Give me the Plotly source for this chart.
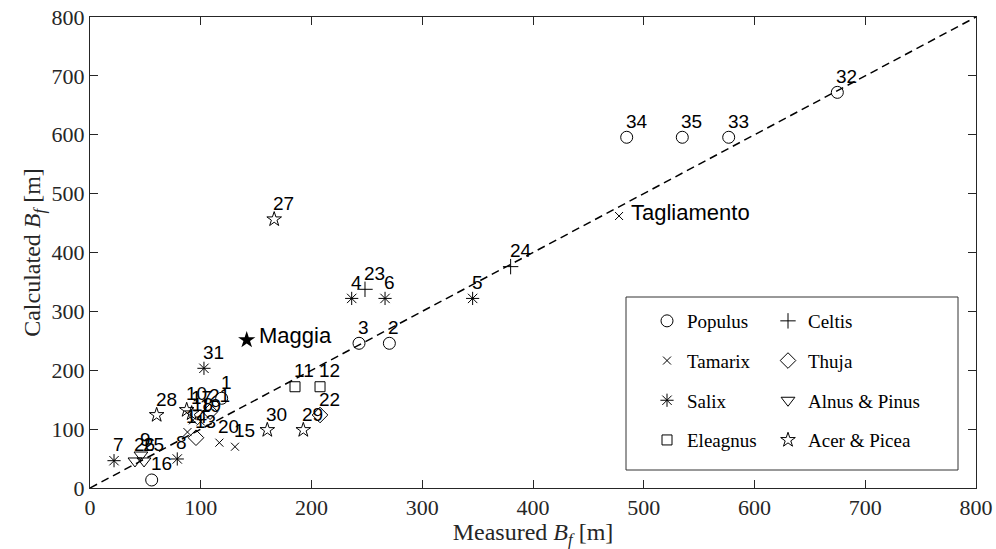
import plotly.graph_objects as go

# ---------------- data ----------------
populus_id = ["1", "2", "3", "16", "32", "33", "34", "35"]
populus_x = [118.9, 270.3, 242.9, 55.7, 674.8, 576.7, 484.6, 534.8]
populus_y = [152.4, 245.8, 245.8, 13.6, 672.0, 595.7, 595.7, 595.7]

tamarix_id = ["14", "15", "18", "19", "20"]
tamarix_x = [88.0, 130.9, 93.0, 100.0, 116.8]
tamarix_y = [95.0, 70.1, 115.0, 113.0, 77.0]

salix_id = ["4", "5", "6", "7", "8", "31"]
salix_x = [236.3, 345.5, 266.4, 21.7, 78.8, 102.9]
salix_y = [322.0, 322.0, 322.0, 46.4, 49.3, 203.3]

eleagnus_id = ["11", "12"]
eleagnus_x = [185.1, 207.7]
eleagnus_y = [172.0, 172.0]

celtis_id = ["23", "24"]
celtis_x = [248.3, 379.8]
celtis_y = [337.5, 376.0]

thuja_id = ["13", "21", "22"]
thuja_x = [95.7, 108.4, 207.7]
thuja_y = [85.4, 129.6, 124.0]

alnus_id = ["9", "25", "26"]
alnus_x = [46.0, 48.8, 40.6]
alnus_y = [56.0, 45.9, 45.9]

acer_id = ["10", "17", "27", "28", "29", "30"]
acer_x = [87.3, 91.8, 166.3, 60.2, 192.6, 160.1]
acer_y = [132.5, 126.9, 456.4, 124.0, 98.5, 98.5]

named_sites = ["Maggia", "Tagliamento"]
maggia_x, maggia_y = [141.5], [251.4]
tagliamento_x, tagliamento_y = [477.7], [462.0]

axis_ticks = [0, 100, 200, 300, 400, 500, 600, 700, 800]

# ---------------- figure ----------------
PL, PR, PT, PB = 90, 976, 17, 488  # plot area in pixels
W, H = 996, 549

def px_x(p):
    return (p - PL) / (PR - PL)

def px_y(p):
    return (PB - p) / (PB - PT)

fig = go.Figure()

# 1:1 line
fig.add_trace(go.Scatter(x=[axis_ticks[0], axis_ticks[-1]], y=[axis_ticks[0], axis_ticks[-1]],
                         mode="lines", line=dict(color="black", width=1.5, dash="8px,5px"),
                         showlegend=False, hoverinfo="skip"))

groups = [
    ("Populus", populus_id, populus_x, populus_y, "circle-open", 12, "legend"),
    ("Celtis", celtis_id, celtis_x, celtis_y, "cross-thin-open", 11, "legend2"),
    ("Tamarix", tamarix_id, tamarix_x, tamarix_y, "x-thin-open", 8, "legend"),
    ("Thuja", thuja_id, thuja_x, thuja_y, "diamond-open", 12, "legend2"),
    ("Salix", salix_id, salix_x, salix_y, "asterisk-open", 11, "legend"),
    ("Alnus &amp; Pinus", alnus_id, alnus_x, alnus_y, "triangle-down-open", 12, "legend2"),
    ("Eleagnus", eleagnus_id, eleagnus_x, eleagnus_y, "square-open", 10, "legend"),
    ("Acer &amp; Picea", acer_id, acer_x, acer_y, "star-open", 11, "legend2"),
]

for name, ids, xs, ys, sym, sz, lg in groups:
    fig.add_trace(go.Scatter(
        x=xs, y=ys, mode="markers", name=name, legend=lg, legendgroup=name,
        marker=dict(symbol=sym, size=sz, color="black", line=dict(color="black", width=1)),
    ))
    for i, xv, yv in zip(ids, xs, ys):
        fig.add_annotation(x=xv, y=yv, text=i, showarrow=False, xanchor="left", yanchor="middle",
                           xshift=-3, yshift=16,
                           font=dict(family="Liberation Sans, Arial", size=19, color="black"))

# named sites
fig.add_trace(go.Scatter(x=maggia_x, y=maggia_y, mode="markers", showlegend=False,
                         marker=dict(symbol="star", size=13, color="black")))
fig.add_trace(go.Scatter(x=tagliamento_x, y=tagliamento_y, mode="markers", showlegend=False,
                         marker=dict(symbol="x-thin-open", size=8, color="black",
                                     line=dict(color="black", width=1))))
for nm, xs, ys in [(named_sites[0], maggia_x, maggia_y), (named_sites[1], tagliamento_x, tagliamento_y)]:
    fig.add_annotation(x=xs[0], y=ys[0], text=nm, showarrow=False, xanchor="left", yanchor="middle",
                       xshift=10, yshift=4,
                       font=dict(family="Liberation Sans, Arial", size=22, color="black"))

# legend box
fig.add_shape(type="rect", xref="paper", yref="paper", x0=px_x(626), x1=px_x(958), y0=px_y(470), y1=px_y(297),
              line=dict(color="#333333", width=1), fillcolor="white", layer="below")

axis_common = dict(range=[0, 800], tickvals=axis_ticks, ticks="inside", ticklen=8, tickcolor="#262626",
                   showline=True, linecolor="#262626", linewidth=1, mirror="ticks", showgrid=False,
                   zeroline=False, automargin=False,
                   tickfont=dict(family="Liberation Serif, Times New Roman", size=22, color="#262626"),
                   title_font=dict(family="Liberation Serif, Times New Roman", size=24, color="#262626"))

legend_common = dict(xanchor="left", yanchor="top", bgcolor="rgba(0,0,0,0)", borderwidth=0,
                     tracegroupgap=12,
                     font=dict(family="Liberation Serif, Times New Roman", size=19, color="black"))

fig.update_layout(
    width=W, height=H,
    margin=dict(l=PL, r=W - PR, t=PT, b=H - PB, autoexpand=False),
    plot_bgcolor="white", paper_bgcolor="white",
    xaxis=dict(**axis_common, title=dict(text="Measured <i>B</i><sub><i>f</i></sub> [m]", standoff=0)),
    yaxis=dict(**axis_common, title=dict(text="Calculated <i>B</i><sub><i>f</i></sub> [m]", standoff=4)),
    legend=dict(x=px_x(647), y=px_y(302), **legend_common),
    legend2=dict(x=px_x(768), y=px_y(302), **legend_common),
)

fig.write_html("out.html")
